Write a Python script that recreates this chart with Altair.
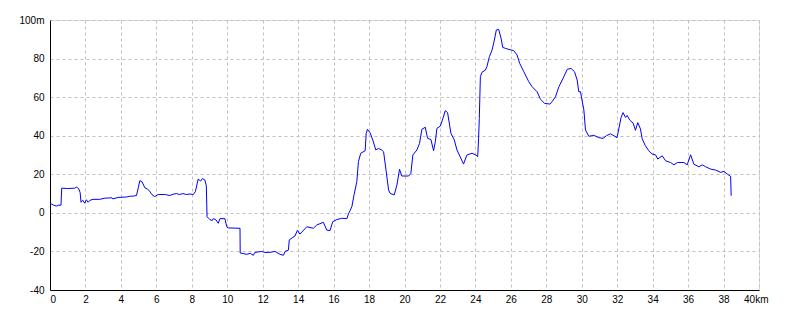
import altair as alt
import pandas as pd

km = [0.0, 0.2, 0.36, 0.5, 0.62, 0.66, 1.0, 1.40, 1.5, 1.62, 1.70, 1.75, 1.85, 1.96, 2.05, 2.15, 2.25, 2.43,
      2.8, 3.09, 3.5, 3.55, 3.84, 4.3, 4.5, 4.7, 4.88, 4.98, 5.07, 5.2, 5.35, 5.5, 5.6, 5.75, 5.9, 6.1, 6.5,
      6.76, 7.0, 7.14, 7.3, 7.5, 7.7, 7.9, 8.08, 8.2, 8.3, 8.36, 8.5, 8.6, 8.74, 8.82, 8.86, 9.02, 9.15, 9.21,
      9.35, 9.49, 9.59, 9.87, 9.97, 10.05, 10.72, 10.73, 11.1, 11.3, 11.47, 11.56, 11.94, 12.13, 12.4, 12.69,
      12.98, 13.17, 13.26, 13.45, 13.5, 13.82, 13.96, 14.1, 14.49, 14.86, 15.05, 15.42, 15.62, 15.8, 15.95,
      16.18, 16.46, 16.75, 16.84, 16.93, 17.03, 17.16, 17.31, 17.4, 17.53, 17.78, 17.84, 17.91, 18.06, 18.21,
      18.38, 18.53, 18.72, 18.82, 18.97, 19.1, 19.19, 19.42, 19.57, 19.72, 19.85, 20.23, 20.36, 20.47, 20.7,
      20.85, 20.98, 21.17, 21.3, 21.49, 21.64, 21.74, 21.83, 22.02, 22.17, 22.3, 22.43, 22.62, 22.81, 22.96,
      23.18, 23.33, 23.52, 23.81, 24.03, 24.13, 24.18, 24.22, 24.28, 24.37, 24.56, 24.65, 24.79, 24.94, 25.07,
      25.18, 25.31, 25.45, 25.54, 25.69, 25.88, 26.16, 26.35, 26.5, 26.73, 27.01, 27.2, 27.48, 27.67, 27.9,
      28.2, 28.33, 28.52, 28.71, 28.95, 29.18, 29.4, 29.59, 29.74, 29.83, 29.93, 29.98, 30.12, 30.21, 30.4,
      30.68, 30.96, 31.2, 31.39, 31.62, 31.99, 32.09, 32.22, 32.33, 32.47, 32.56, 32.71, 32.9, 33.03, 33.16,
      33.31, 33.41, 33.59, 33.78, 33.97, 34.16, 34.29, 34.54, 34.73, 35.01, 35.2, 35.39, 35.76, 35.95, 36.14,
      36.33, 36.61, 36.8, 36.99, 37.27, 37.55, 37.84, 38.02, 38.21, 38.4, 38.43]

elev = [5.0, 4.0, 3.5, 4.0, 4.0, 12.8, 12.6, 12.8, 13.4, 12.5, 10.5, 5.5, 6.5, 5.0, 6.8, 5.5, 6.5, 7.0,
        7.0, 7.6, 7.8, 7.2, 8.0, 8.2, 8.6, 8.7, 9.0, 13.0, 16.7, 16.0, 13.0, 12.3, 11.5, 9.5, 8.4, 9.5, 9.5,
        9.0, 9.8, 10.0, 9.5, 10.0, 9.5, 9.8, 9.5, 11.0, 15.0, 17.5, 16.5, 17.8, 17.0, 14.0, -2.0, -3.5, -4.0, -3.0,
        -3.5, -5.4, -3.0, -3.0, -7.2, -7.8, -8.0, -20.8, -21.5, -21.0, -22.0, -20.5, -20.0, -20.5, -20.5, -20.0,
        -21.5, -22.0, -20.0, -19.3, -14.0, -12.0, -9.0, -11.0, -7.2, -8.0, -6.3, -4.9, -9.0, -9.2, -4.6,
        -3.5, -2.8, -3.0, -0.5, 1.2, 3.2, 9.6, 16.2, 26.5, 30.9, 32.2, 41.2, 43.3, 41.5, 37.8,
        32.6, 33.4, 32.6, 31.7, 21.3, 11.9, 10.1, 9.3, 14.4, 22.6, 19.1, 19.1, 20.5, 30.0, 32.6,
        36.1, 43.3, 44.4, 38.7, 38.0, 32.2, 36.9, 43.8, 45.0, 49.0, 53.0, 52.0, 41.2, 37.8, 32.6,
        28.3, 25.3, 30.0, 30.9, 30.0, 29.1, 38.6, 49.0, 70.6, 72.9, 74.0, 75.8, 81.0, 84.4, 89.6,
        94.8, 95.2, 90.5, 85.8, 85.3, 84.8, 84.1, 81.9, 77.5, 73.2, 68.0, 65.4, 62.8, 58.9, 56.8,
        56.4, 57.7, 60.2, 65.4, 69.8, 74.4, 74.9, 73.2, 68.9, 62.8, 62.8, 60.2, 53.3, 43.0, 39.7,
        40.2, 39.0, 38.6, 40.0, 41.0, 39.0, 43.5, 49.5, 52.0, 49.5, 50.5, 48.1, 46.5, 42.8, 46.8,
        43.6, 38.4, 34.8, 32.2, 30.5, 30.1, 27.9, 29.6, 27.0, 26.1, 24.9, 26.1, 26.1, 24.9, 30.1,
        25.2, 23.9, 24.9, 23.9, 22.7, 22.2, 21.0, 21.5, 20.1, 18.9, 8.9]

x_ticks = list(range(0, 41, 2))
y_ticks = list(range(-40, 101, 20))

df = pd.DataFrame({"km": km, "elev": elev, "order": list(range(len(km)))})

FONT = "Liberation Sans Narrow"

chart = alt.Chart(df).mark_line(color="#0000ff", strokeWidth=1, interpolate="linear").encode(
    x=alt.X("km:Q", scale=alt.Scale(domain=[0, 40], nice=False, zero=False),
            axis=alt.Axis(values=x_ticks, title=None, ticks=False, domainColor="black",
                          labelExpr="datum.value == 40 ? '40km' : '' + datum.value",
                          labelOffset={"condition": {"test": "datum.value == 40", "value": 9}, "value": 0},
                          labelPadding=4, gridDash=[3, 3], gridColor="#c0c0c0")),
    y=alt.Y("elev:Q", scale=alt.Scale(domain=[-40, 100], nice=False, zero=False),
            axis=alt.Axis(values=y_ticks, title=None, ticks=False, domainColor="black",
                          labelExpr="datum.value == 100 ? '100m' : '' + datum.value",
                          labelPadding=6, gridDash=[3, 3], gridColor="#c0c0c0")),
    order="order:Q",
).properties(
    width=709, height=270,
    autosize=alt.AutoSizeParams(type="none"),
    padding={"left": 50, "top": 20, "right": 41, "bottom": 30},
).configure_view(
    stroke="black", strokeWidth=1
).configure_axis(
    labelFont=FONT, labelFontSize=12, labelColor="black", domainWidth=1.5, gridWidth=1
).configure(background="white")

chart.save("out.html", embed_options={"renderer": "svg", "actions": False})
